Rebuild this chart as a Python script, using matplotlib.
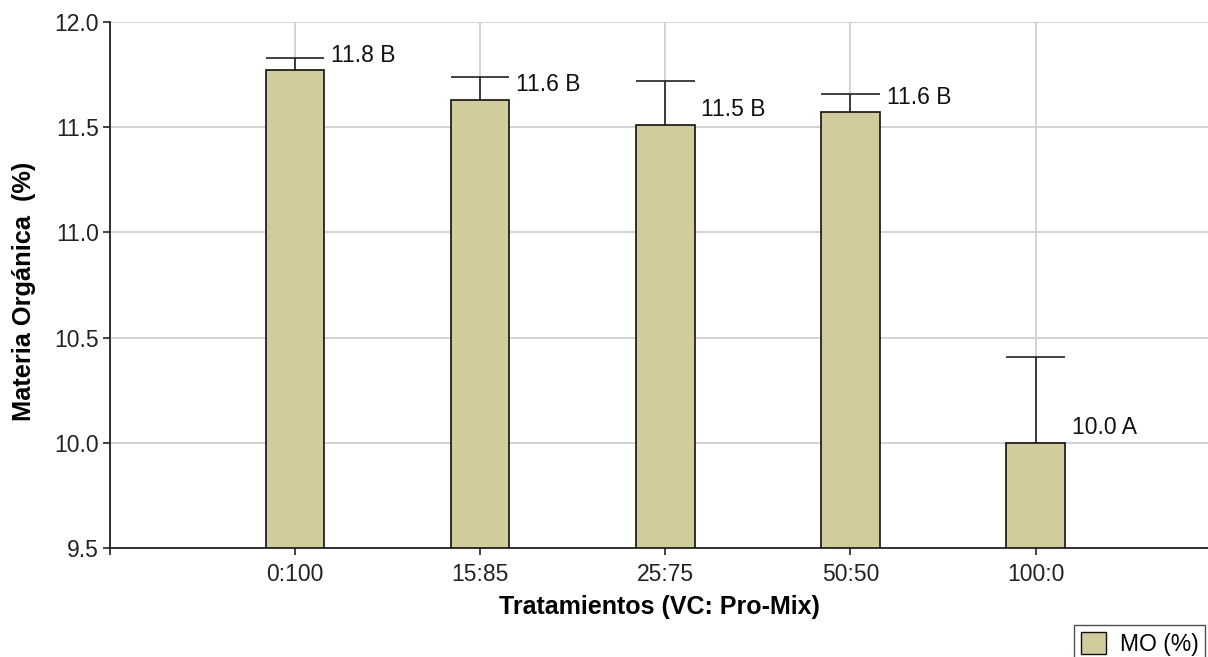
import matplotlib
matplotlib.use("Agg")
import matplotlib.pyplot as plt
from matplotlib.patches import Patch

plt.rcParams['font.family'] = ['Liberation Sans', 'DejaVu Sans']

categories = ["0:100", "15:85", "25:75", "50:50", "100:0"]
means = [11.77, 11.63, 11.51, 11.57, 10.00]
upper = [11.83, 11.74, 11.72, 11.66, 10.41]
labels = ["11.8 B", "11.6 B", "11.5 B", "11.6 B", "10.0 A"]
yticks = [9.5, 10.0, 10.5, 11.0, 11.5, 12.0]

FS = 16.5

fig = plt.figure(figsize=(12.08, 6.57), dpi=100)
ax = fig.add_axes([110/1208, 1 - 548/657, 1 - 110/1208, (548 - 22)/657])

x = list(range(1, len(categories) + 1))
w = 0.315
bar_color = "#D2CB9C"
ax.bar(x, [m - 9.5 for m in means], bottom=9.5, width=w, color=bar_color,
       edgecolor="#111111", linewidth=1.2, zorder=3)
ax.vlines(x, means, upper, color="#222222", linewidth=1.2, zorder=2)
ax.hlines(upper, [xi - w/2 for xi in x], [xi + w/2 for xi in x],
          color="#222222", linewidth=1.2, zorder=2)

for xi, m, lab in zip(x, means, labels):
    ax.annotate(lab, (xi + w/2, m), xytext=(5, 11), textcoords="offset points",
                ha="left", va="center", fontsize=FS, color="#111111", zorder=4)

ax.set_xlim(0, (1208 - 109.5) / 185.2)
ax.set_ylim(9.5, 12.0)
ax.set_yticks(yticks)
ax.set_yticklabels([f"{v:.1f}" for v in yticks])
ax.set_xticks([0] + x)
ax.set_xticklabels([""] + categories)
ax.tick_params(axis="both", direction="out", length=5, width=1.2,
               labelsize=FS, colors="#222222", pad=6)
ax.tick_params(axis="y", pad=3)

ax.grid(True, color="#d0d0d0", linewidth=1.3, zorder=0)
ax.set_axisbelow(True)
for s in ["top", "right"]:
    ax.spines[s].set_visible(False)
for s in ["left", "bottom"]:
    ax.spines[s].set_linewidth(1.3)
    ax.spines[s].set_color("#222222")

ax.set_xlabel("Tratamientos (VC: Pro-Mix)", fontsize=18, fontweight="bold", labelpad=6)
ax.set_ylabel("Materia Orgánica  (%)", fontsize=18.3, fontweight="bold")
ax.yaxis.set_label_coords(-0.067, 0.487)

leg = fig.legend(handles=[Patch(facecolor=bar_color, edgecolor="#111111", label="MO (%)")],
                 loc="upper left", bbox_to_anchor=(1074/1208, 1 - 625/657),
                 borderaxespad=0, fontsize=FS, frameon=True, fancybox=False,
                 borderpad=0.3, handlelength=1.1, handleheight=1.1, handletextpad=0.6)
leg.get_frame().set_edgecolor("#222222")
leg.get_frame().set_linewidth(1.0)

fig.savefig("out.png", dpi=100)
